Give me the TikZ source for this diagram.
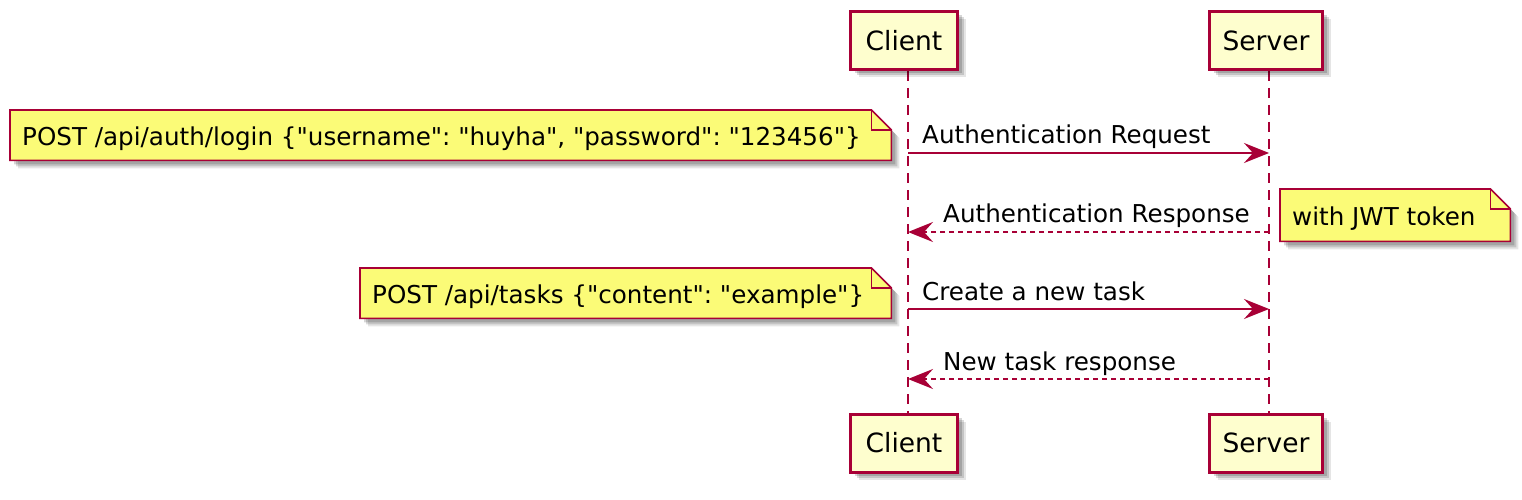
\documentclass[tikz,border=0pt]{standalone}
\usepackage{fontspec}
\setmainfont{DejaVu Sans}[Ligatures=TeXOff]
\usetikzlibrary{arrows.meta,shadows,backgrounds}
\definecolor{umlred}{HTML}{A80036}
\definecolor{boxfill}{HTML}{FEFECE}
\definecolor{notefill}{HTML}{FBFB77}
\tikzset{
  softshadow/.style={
    drop shadow={shadow xshift=8pt,shadow yshift=-8pt,fill=black,opacity=0.10},
    drop shadow={shadow xshift=6pt,shadow yshift=-6pt,fill=black,opacity=0.14},
    drop shadow={shadow xshift=4pt,shadow yshift=-4pt,fill=black,opacity=0.16}},
  participant/.style={draw=umlred,fill=boxfill,line width=3pt,rectangle,
    inner sep=0pt,minimum height=58pt,softshadow,font=\fontsize{26.5}{31}\selectfont},
  notetext/.style={anchor=north west,inner ysep=0pt,inner xsep=12pt,
    minimum height=50pt,text height=21pt,text depth=0pt},
  noteshape/.style={draw=umlred,fill=notefill,line width=1.6pt,line join=miter,softshadow},
  lbl/.style={anchor=base west,inner sep=0pt},
  lifeline/.style={draw=umlred,line width=1.8pt,dash pattern=on 10pt off 7pt},
  msg/.style={draw=umlred,line width=2pt,-{Stealth[length=25pt,width=20pt,inset=9pt]}},
  reply/.style={msg,dash pattern=on 5pt off 4pt}
}
\begin{document}
\frenchspacing
\begin{tikzpicture}[x=1pt,y=-1pt,font=\fontsize{24.6}{29}\selectfont]
\useasboundingbox (0,0) rectangle (1522,500);
\begin{pgfonlayer}{background}
\fill[white] (0,0) rectangle (1522,500);
\end{pgfonlayer}

% lifeline coordinates
\coordinate (cx) at (908,0);
\coordinate (sx) at (1269,0);

% participants
\node[participant,minimum width=107pt] (clientTop) at (904,40.5) {Client};
\node[participant,minimum width=113pt] (serverTop) at (1266,40.5) {Server};
\node[participant,minimum width=107pt] (clientBot) at (904,443) {Client};
\node[participant,minimum width=113pt] (serverBot) at (1266,443) {Server};

% lifelines
\begin{pgfonlayer}{background}
\draw[lifeline] (clientTop.south -| cx) -- (clientBot.north -| cx);
\draw[lifeline] (serverTop.south -| sx) -- (serverBot.north -| sx);
\end{pgfonlayer}

% notes
\node[notetext] (note1) at (10,110) {\makebox[857pt][l]{POST /api/auth/login \{"username": "huyha", "password": "123456"\}}};
\node[notetext,minimum height=52pt] (note2) at (1280,189) {\makebox[206pt][l]{with JWT token}};
\node[notetext] (note3) at (360,268) {\makebox[507pt][l]{POST /api/tasks \{"content": "example"\}}};

\begin{pgfonlayer}{background}
\foreach \n in {note1,note2,note3}{
  \path[noteshape] (\n.north west) -- ([xshift=-20pt]\n.north east)
     -- ([yshift=-20pt]\n.north east) -- (\n.south east) -- (\n.south west) -- cycle;
  \draw[draw=umlred,line width=1.6pt] ([xshift=-20pt]\n.north east)
     -- ([xshift=-20pt,yshift=-20pt]\n.north east) -- ([yshift=-20pt]\n.north east);
}
\end{pgfonlayer}

% messages
\coordinate (c1) at (908,153); \coordinate (s1) at (1269,153);
\coordinate (c2) at (908,232); \coordinate (s2) at (1269,232);
\coordinate (c3) at (908,309); \coordinate (s3) at (1269,309);
\coordinate (c4) at (908,379); \coordinate (s4) at (1269,379);

\draw[msg] (c1) -- (s1);
\draw[reply] (s2) -- (c2);
\draw[msg] (c3) -- (s3);
\draw[reply] (s4) -- (c4);

\node[lbl] (lab1) at (922,143) {Authentication Request};
\node[lbl] (lab2) at (943,222) {Authentication Response};
\node[lbl] (lab3) at (922,300) {Create a new task};
\node[lbl] (lab4) at (943,370) {New task response};
\end{tikzpicture}
\end{document}
